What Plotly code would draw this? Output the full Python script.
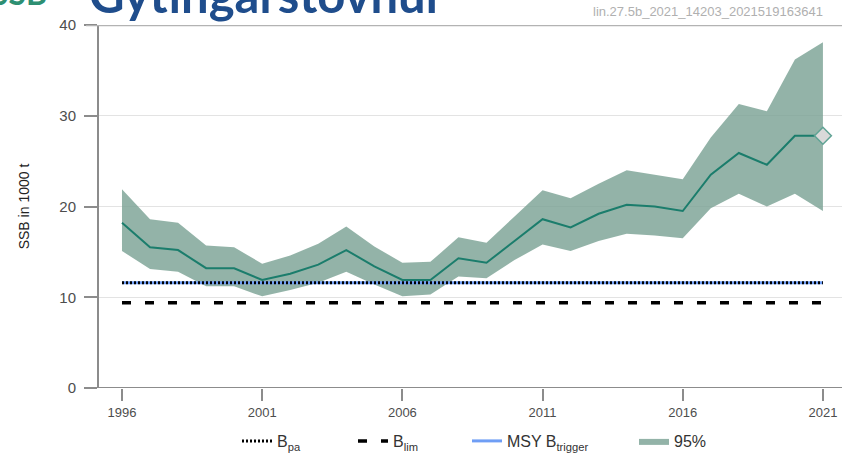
import plotly.graph_objects as go

years = list(range(1996, 2022))
ssb = [18.2, 15.5, 15.2, 13.2, 13.2, 11.9, 12.6, 13.6, 15.2, 13.4, 11.9, 11.9, 14.3, 13.8, 16.2,
       18.6, 17.7, 19.2, 20.2, 20.0, 19.5, 23.5, 25.9, 24.6, 27.8, 27.8]
upper = [21.9, 18.6, 18.2, 15.7, 15.5, 13.7, 14.6, 15.9, 17.8, 15.6, 13.8, 13.9, 16.6, 16.0, 18.9,
         21.8, 20.9, 22.5, 24.0, 23.5, 23.0, 27.6, 31.3, 30.5, 36.2, 38.1]
lower = [15.1, 13.1, 12.8, 11.2, 11.2, 10.1, 10.8, 11.6, 12.8, 11.4, 10.1, 10.3, 12.3, 12.1, 14.1,
         15.8, 15.1, 16.2, 17.0, 16.8, 16.5, 19.8, 21.4, 20.0, 21.4, 19.5]
bpa = 11.6
blim = 9.4
msy_btrigger = 11.6
x_ticks = [1996, 2001, 2006, 2011, 2016, 2021]
y_ticks = [0, 10, 20, 30, 40]

W, H = 842, 459
L, R, T, B = 99, 842, 25, 388


def px(xp):
    return (xp - L) / (R - L)


def py(yp):
    return (B - yp) / (B - T)


band_color = "rgba(120,160,146,0.8)"
line_color = "#1b7d6c"

fig = go.Figure()
fig.add_trace(go.Scatter(x=years, y=lower, mode="lines", line=dict(width=0),
                         showlegend=False, hoverinfo="skip"))
fig.add_trace(go.Scatter(x=years, y=upper, mode="lines", line=dict(width=0),
                         fill="tonexty", fillcolor=band_color, name="95%",
                         legend="legend4"))
fig.add_trace(go.Scatter(x=years, y=ssb, mode="lines", line=dict(color=line_color, width=2),
                         showlegend=False))
fig.add_trace(go.Scatter(x=[years[-1]], y=[ssb[-1]], mode="markers",
                         marker=dict(symbol="diamond", size=13, color="#d9d9d9",
                                     line=dict(color="#5fa394", width=1.5)),
                         showlegend=False, cliponaxis=False))
fig.add_trace(go.Scatter(x=[years[0], years[-1]], y=[blim, blim], mode="lines",
                         line=dict(color="black", width=3.5, dash="9px,14px"),
                         name="B<sub>lim</sub>", legend="legend2"))
fig.add_trace(go.Scatter(x=[years[0], years[-1]], y=[msy_btrigger, msy_btrigger], mode="lines",
                         line=dict(color="#6f9ef5", width=3),
                         name="MSY B<sub>trigger</sub>", legend="legend3"))
fig.add_trace(go.Scatter(x=[years[0], years[-1]], y=[bpa, bpa], mode="lines",
                         line=dict(color="black", width=3, dash="2px,2px"),
                         name="B<sub>pa</sub>", legend="legend"))

legend_font = dict(family="Liberation Sans, Arial, sans-serif", size=16, color="#333333")
leg_common = dict(orientation="h", yanchor="middle", xanchor="left", font=legend_font,
                  bgcolor="rgba(0,0,0,0)", itemwidth=30)
ly = py(441)

fig.update_layout(
    width=W, height=H,
    margin=dict(l=L, r=W - R, t=T, b=H - B, autoexpand=False),
    plot_bgcolor="white", paper_bgcolor="white",
    font=dict(family="Liberation Sans, Arial, sans-serif", color="#4d4d4d"),
    legend=dict(x=px(237), y=ly, **leg_common),
    legend2=dict(x=px(353), y=ly, **leg_common),
    legend3=dict(x=px(467), y=ly, **leg_common),
    legend4=dict(x=px(634), y=ly, **leg_common),
    xaxis=dict(range=[1995.18, 2021.68], tickvals=x_ticks, ticktext=[str(v) for v in x_ticks],
               ticks="outside", ticklen=12, tickcolor="#8c8c8c", tickwidth=1.5,
               showgrid=False, zeroline=False, showline=False, automargin=False,
               tickfont=dict(size=13, color="#4d4d4d")),
    yaxis=dict(range=[0, 40], tickvals=y_ticks, ticks="outside", ticklen=13,
               tickcolor="#8c8c8c", tickwidth=1.5, showgrid=True, gridcolor="#e3e3e3",
               gridwidth=1, zeroline=False, showline=True, linecolor="#8c8c8c", linewidth=2,
               automargin=False, ticklabelstandoff=5,
               tickfont=dict(size=15, color="#4d4d4d"),
               title=dict(text="SSB in 1000 t", font=dict(size=14, color="#222222"), standoff=26)),
)

# axis frame lines
fig.add_shape(type="line", xref="paper", yref="y", x0=px(85), x1=1, y0=0, y1=0,
              line=dict(color="#8c8c8c", width=2))
fig.add_shape(type="line", xref="paper", yref="y", x0=px(86), x1=1, y0=40, y1=40,
              line=dict(color="#b3b3b3", width=2.5))

# header texts
fig.add_annotation(text="<b>Gytingarstovnur</b>", xref="paper", yref="paper",
                   x=px(87), y=py(-6), xanchor="left", yanchor="middle", showarrow=False,
                   font=dict(family="Lato, Open Sans, sans-serif", size=49, color="#1f4d8c"))
fig.add_annotation(text="<b>SSB</b>", xref="paper", yref="paper",
                   x=px(49), y=py(-8), xanchor="right", yanchor="middle", showarrow=False,
                   font=dict(family="Lato, Open Sans, sans-serif", size=32, color="#2e8f72"))
fig.add_annotation(text="lin.27.5b_2021_14203_2021519163641", xref="paper", yref="paper",
                   x=px(825), y=py(12), xanchor="right", yanchor="middle", showarrow=False,
                   font=dict(family="Liberation Sans, Arial, sans-serif", size=13, color="#b0b0b0"))

fig.write_html("out.html", config={"displayModeBar": False},
               post_script="document.body.style.margin='0px';")
